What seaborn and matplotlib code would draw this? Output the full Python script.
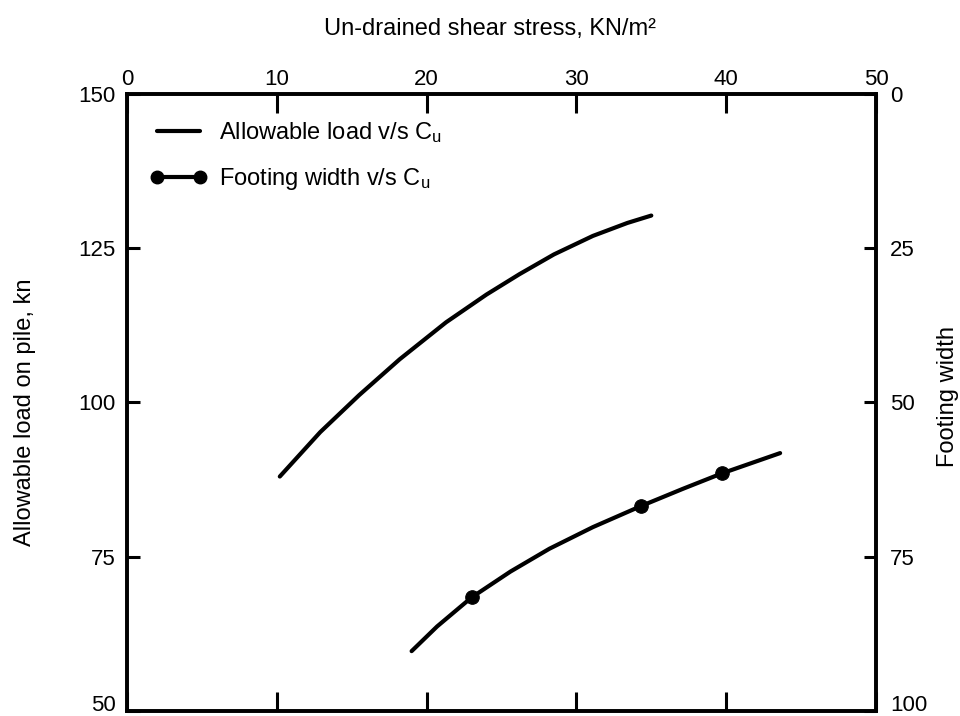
import matplotlib
matplotlib.use("Agg")
import matplotlib.pyplot as plt
import seaborn as sns
import pandas as pd
from matplotlib.lines import Line2D

# ---- data ----
cu_load = [10.2, 12.9, 15.5, 18.2, 21.3, 24.0, 26.2, 28.5, 31.1, 33.4, 35.0]
allowable_load = [88.0, 95.2, 101.2, 107.0, 113.0, 117.5, 120.8, 124.0, 127.0, 129.1, 130.3]

cu_width = [19.0, 20.7, 23.0, 25.6, 28.2, 31.1, 34.3, 37.1, 39.7, 43.6]
footing_width = [90.3, 86.3, 81.6, 77.4, 73.7, 70.2, 66.8, 64.0, 61.5, 58.2]

cu_marked = [23.0, 34.3, 39.7]
width_marked = [81.6, 66.8, 61.5]

x_ticks = [0, 10, 20, 30, 40, 50]
left_ticks = [50, 75, 100, 125, 150]
right_ticks = [0, 25, 50, 75, 100]

sns.set_style("ticks")
plt.rcParams["font.family"] = ["Liberation Sans", "DejaVu Sans"]
plt.rcParams["mathtext.fontset"] = "custom"
plt.rcParams["mathtext.rm"] = "Liberation Sans"
plt.rcParams["mathtext.it"] = "Liberation Sans"
plt.rcParams["mathtext.default"] = "regular"
plt.rcParams["text.color"] = "black"
plt.rcParams["xtick.color"] = "black"
plt.rcParams["ytick.color"] = "black"
plt.rcParams["axes.labelcolor"] = "black"

df_load = pd.DataFrame({"cu": cu_load, "load": allowable_load})
df_width = pd.DataFrame({"cu": cu_width, "width": footing_width})
df_mark = pd.DataFrame({"cu": cu_marked, "width": width_marked})

fig = plt.figure(figsize=(9.6, 7.16), dpi=100)
ax = fig.add_axes([0.1323, 0.007, 0.7802, 0.8617])
ax2 = ax.twinx()

sns.lineplot(data=df_load, x="cu", y="load", ax=ax, color="black", lw=3, sort=False)
sns.lineplot(data=df_width, x="cu", y="width", ax=ax2, color="black", lw=3, sort=False)
sns.scatterplot(data=df_mark, x="cu", y="width", ax=ax2, color="black", s=95,
                edgecolor="black", zorder=5)

ax.set_xlim(0, 50)
ax.set_ylim(50, 150)
ax2.set_ylim(100, 0)
ax.set_xticks(x_ticks, labels=[str(v) for v in x_ticks])
ax.set_yticks(left_ticks, labels=[str(v) for v in left_ticks])
ax2.set_yticks(right_ticks, labels=[str(v) for v in right_ticks])

ax.xaxis.set_label_position("top")
ax.tick_params(axis="x", top=True, bottom=True, labeltop=True, labelbottom=False,
               direction="in", length=14, width=2.2, labelsize=16, pad=3)
ax.tick_params(axis="y", direction="in", length=9, width=2.2, labelsize=16, pad=8)
ax2.tick_params(axis="y", direction="in", length=9, width=2.2, labelsize=16, pad=10)

# bottom-most tick labels sit on the bottom edge, as in the reference
ax.yaxis.get_major_ticks()[0].label1.set_va("baseline")
ax2.yaxis.get_major_ticks()[-1].label2.set_va("baseline")

for a in (ax, ax2):
    for s in a.spines.values():
        s.set_linewidth(2.6)
        s.set_color("black")

ax.set_xlabel("Un-drained shear stress, KN/m\u00b2", fontsize=17)
ax.xaxis.set_label_coords(0.485, 1.095)
ax.set_ylabel("Allowable load on pile, kn", fontsize=17)
ax.yaxis.set_label_coords(-0.122, 0.485)
ax2.set_ylabel("Footing width", fontsize=17, rotation=90)
ax2.yaxis.set_label_coords(1.081, 0.51)

handles = [
    Line2D([0], [0], color="black", lw=3),
    Line2D([0], [0], color="black", lw=3, marker="o", markersize=9),
]
ax.legend(handles, ["Allowable load v/s C$_u$", "Footing width v/s C$_u$"],
          loc="upper left", frameon=False, fontsize=17, numpoints=2,
          handlelength=2.4, handletextpad=0.5, labelspacing=0.9,
          borderpad=0, borderaxespad=0, bbox_to_anchor=(0.031, 0.958))

fig.savefig("out.png", dpi=100)
